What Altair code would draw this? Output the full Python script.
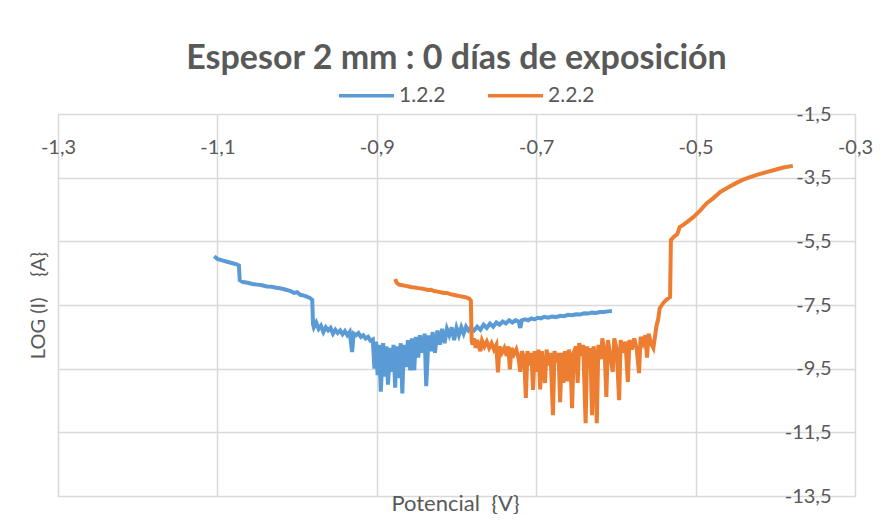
import altair as alt
import pandas as pd

# Series 1.2.2 (blue)
x_122 = [-1.104, -1.100, -1.094, -1.088, -1.082, -1.076, -1.073, -1.072, -1.068, -1.062,
         -1.056, -1.050, -1.044, -1.038, -1.032, -1.026, -1.020, -1.014, -1.008, -1.004,
         -1.000, -0.996, -0.992, -0.988, -0.984, -0.981, -0.980,
         -0.979, -0.976, -0.973, -0.970, -0.967, -0.964, -0.961, -0.958, -0.955, -0.952,
         -0.949, -0.946, -0.943, -0.940, -0.937, -0.934, -0.931, -0.929, -0.926, -0.923,
         -0.920, -0.917, -0.914, -0.911, -0.908, -0.905,
         -0.903, -0.901, -0.899, -0.897, -0.895, -0.892, -0.890, -0.888, -0.886, -0.883,
         -0.881, -0.879, -0.877, -0.875, -0.873, -0.870, -0.868, -0.866, -0.863, -0.861,
         -0.858, -0.856, -0.853, -0.851, -0.848, -0.846, -0.843, -0.840, -0.838, -0.835,
         -0.832, -0.830, -0.827, -0.824, -0.821, -0.818, -0.815, -0.812, -0.809, -0.806,
         -0.803, -0.800, -0.797, -0.794, -0.791, -0.788, -0.785,
         -0.782, -0.778, -0.774, -0.770, -0.766, -0.762, -0.758, -0.754, -0.750, -0.746,
         -0.742, -0.738, -0.734, -0.730, -0.726, -0.722, -0.720, -0.718, -0.714, -0.710,
         -0.706, -0.702, -0.698, -0.694, -0.690, -0.685, -0.680, -0.675, -0.670, -0.665,
         -0.660, -0.655, -0.650, -0.645, -0.640, -0.635, -0.630, -0.625, -0.620, -0.615,
         -0.610, -0.605]
y_122 = [-5.97, -6.05, -6.10, -6.14, -6.18, -6.22, -6.26, -6.72, -6.78, -6.80,
         -6.84, -6.86, -6.88, -6.92, -6.93, -6.96, -6.98, -7.02, -7.06, -7.12,
         -7.10, -7.18, -7.20, -7.24, -7.28, -7.34, -8.10,
         -8.20, -8.05, -8.25, -8.15, -8.35, -8.20, -8.30, -8.22, -8.40, -8.28,
         -8.38, -8.30, -8.42, -8.32, -8.45, -8.35, -8.98, -8.40, -8.45, -8.38,
         -8.50, -8.45, -8.55, -8.50, -8.62, -8.58,
         -9.50, -8.65, -9.70, -8.75, -10.22, -8.70, -9.75, -8.80, -10.00, -8.85,
         -9.60, -8.75, -10.10, -8.80, -9.80, -8.70, -10.28, -8.75, -9.45, -8.60,
         -9.55, -8.55, -9.55, -8.50, -9.15, -8.45, -9.00, -8.40, -10.05, -8.45,
         -8.95, -8.35, -9.00, -8.30, -8.75, -8.25, -8.70, -8.25, -8.45, -8.20,
         -8.60, -8.22, -8.45, -8.20, -8.40, -8.18, -8.30,
         -8.22, -8.30, -8.18, -8.28, -8.12, -8.22, -8.08, -8.18, -8.05, -8.12,
         -8.02, -8.08, -7.98, -8.05, -7.98, -8.02, -8.22, -7.98, -7.95, -7.98,
         -7.92, -7.95, -7.90, -7.92, -7.87, -7.90, -7.86, -7.88, -7.84, -7.85,
         -7.81, -7.82, -7.79, -7.80, -7.76, -7.77, -7.74, -7.75, -7.72, -7.72,
         -7.70, -7.69]

# Series 2.2.2 (orange)
x_222 = [-0.877, -0.875, -0.872, -0.868, -0.864, -0.860, -0.856, -0.852, -0.848, -0.844,
         -0.840, -0.836, -0.832, -0.828, -0.824, -0.820, -0.816, -0.812, -0.808, -0.804,
         -0.800, -0.796, -0.792, -0.788, -0.784, -0.782, -0.781,
         -0.780, -0.778, -0.776, -0.774, -0.772, -0.770, -0.768, -0.765, -0.762, -0.759,
         -0.756, -0.753, -0.750, -0.748, -0.746, -0.743, -0.740, -0.737, -0.735, -0.733,
         -0.731, -0.728, -0.725, -0.722, -0.720, -0.718, -0.715, -0.713, -0.711, -0.708,
         -0.706, -0.704, -0.702, -0.699, -0.697, -0.695, -0.693, -0.691, -0.689, -0.687,
         -0.684, -0.682, -0.679, -0.677, -0.674, -0.672, -0.670, -0.668, -0.666, -0.664,
         -0.661, -0.659, -0.657, -0.655, -0.653, -0.650, -0.648, -0.646, -0.643, -0.641,
         -0.638, -0.636, -0.634, -0.632, -0.630, -0.628, -0.626, -0.624, -0.622, -0.619,
         -0.617, -0.614, -0.612, -0.610, -0.607, -0.604, -0.602, -0.599, -0.596, -0.594,
         -0.591, -0.588, -0.585, -0.583, -0.580, -0.577, -0.574, -0.571, -0.569, -0.566,
         -0.563, -0.561, -0.559, -0.556, -0.553, -0.551, -0.549, -0.547, -0.545,
         -0.540, -0.536, -0.532, -0.531, -0.527, -0.523, -0.520, -0.516, -0.510, -0.503,
         -0.495, -0.486, -0.478, -0.469, -0.460, -0.450, -0.441, -0.430, -0.420, -0.410,
         -0.400, -0.390, -0.378]
y_222 = [-6.68, -6.80, -6.86, -6.88, -6.90, -6.92, -6.94, -6.95, -6.97, -6.98,
         -7.00, -7.03, -7.02, -7.06, -7.08, -7.10, -7.12, -7.12, -7.16, -7.18,
         -7.20, -7.22, -7.24, -7.26, -7.30, -7.36, -8.60,
         -8.75, -8.55, -8.85, -8.60, -8.80, -8.95, -8.62, -8.80, -8.65, -8.85,
         -8.70, -8.90, -8.75, -9.62, -8.80, -9.00, -8.85, -9.10, -8.80, -9.52,
         -8.85, -9.05, -8.90, -9.20, -9.60, -8.95, -9.15, -10.42, -8.95, -9.40,
         -9.00, -10.17, -8.95, -9.60, -8.90, -10.15, -8.95, -9.50, -9.95, -8.90,
         -9.40, -9.00, -10.96, -8.95, -9.30, -9.00, -10.55, -9.00, -9.95, -8.95,
         -9.90, -8.90, -9.20, -10.74, -9.00, -8.80, -9.95, -8.70, -9.10, -8.75,
         -11.21, -8.80, -9.30, -8.85, -10.96, -8.80, -9.10, -11.21, -8.75, -9.20,
         -8.55, -9.00, -10.39, -8.60, -9.10, -9.60, -8.55, -8.90, -10.49, -8.60,
         -9.00, -8.65, -9.92, -8.60, -8.90, -8.55, -8.85, -9.64, -8.50, -8.70,
         -8.45, -9.15, -8.40, -8.70, -8.85, -8.50, -8.15, -7.95, -7.60,
         -7.42, -7.32, -7.25, -5.46, -5.35, -5.28, -5.05, -4.99, -4.88, -4.74,
         -4.55, -4.30, -4.15, -3.95, -3.82, -3.68, -3.57, -3.47, -3.39, -3.32,
         -3.25, -3.18, -3.13]

series_names = ["1.2.2", "2.2.2"]
series_colors = ["#5B9BD5", "#ED7D31"]
x_ticks = [-1.3, -1.1, -0.9, -0.7, -0.5, -0.3]
y_ticks = [-1.5, -3.5, -5.5, -7.5, -9.5, -11.5, -13.5]

rows = []
for name, xs, ys in [(series_names[0], x_122, y_122), (series_names[1], x_222, y_222)]:
    for i, (a, b) in enumerate(zip(xs, ys)):
        rows.append({"x": a, "y": b, "serie": name, "i": i})
df = pd.DataFrame(rows)

FONT = "Lato"
GREY = "#595959"
NB = "\u00a0"
label_expr = "replace(replace(datum.label, '.', ','), '\u2212', '-')"

chart = alt.Chart(df).mark_line(strokeWidth=4).encode(
    x=alt.X("x:Q",
            scale=alt.Scale(domain=[-1.3, -0.3], nice=False, zero=False),
            axis=alt.Axis(orient="top", values=x_ticks, format=".1f", labelExpr=label_expr,
                          domain=False, ticks=False, tickSize=0,
                          labelPadding=-33, labelBaseline="middle",
                          labelFont=FONT, labelFontSize=20, labelColor=GREY,
                          gridColor="#D9D9D9", gridWidth=1.5,
                          title="Potencial" + NB + NB + "{V}", titleFont=FONT, titleFontSize=22,
                          titleFontWeight="normal", titleColor=GREY,
                          titleX=397, titleY=389, titleBaseline="middle", titleAlign="center",
                          labelFlush=False, labelOverlap=False)),
    y=alt.Y("y:Q",
            scale=alt.Scale(domain=[-13.5, -1.5], nice=False, zero=False),
            axis=alt.Axis(orient="right", values=y_ticks, format=".1f", labelExpr=label_expr,
                          domain=False, ticks=False, tickSize=0,
                          labelPadding=-24, labelAlign="right", labelBaseline="middle",
                          labelFont=FONT, labelFontSize=20, labelColor=GREY,
                          gridColor="#D9D9D9", gridWidth=1.5,
                          title="LOG" + NB + "(I)" + NB * 4 + "{A}", titleFont=FONT, titleFontSize=20,
                          titleFontWeight="normal", titleColor=GREY,
                          titleAngle=270, titleX=-817, titleY=191,
                          titleBaseline="middle", titleAlign="center",
                          labelFlush=False, labelOverlap=False)),
    color=alt.Color("serie:N",
                    scale=alt.Scale(domain=series_names, range=series_colors),
                    legend=alt.Legend(orient="none", direction="horizontal", title=None,
                                      legendX=279, legendY=-48,
                                      symbolType="stroke", symbolSize=3025, symbolStrokeWidth=3.5,
                                      labelFont=FONT, labelFontSize=21, labelColor=GREY,
                                      labelOffset=3, columnPadding=35, padding=0)),
    order="i:Q",
).properties(
    width=797, height=382,
    padding={"left": 50, "top": 106, "right": 23, "bottom": 18},
    autosize=alt.AutoSizeParams(type="none"),
    title=alt.TitleParams("Espesor 2 mm : 0 días de exposición", font=FONT, fontSize=34,
                          fontWeight="bold", color=GREY, anchor="middle", offset=-10,
                          frame="group"),
).configure_view(strokeWidth=0).configure(background="white")

chart.save("out.html", embed_options={"renderer": "svg", "actions": False})
